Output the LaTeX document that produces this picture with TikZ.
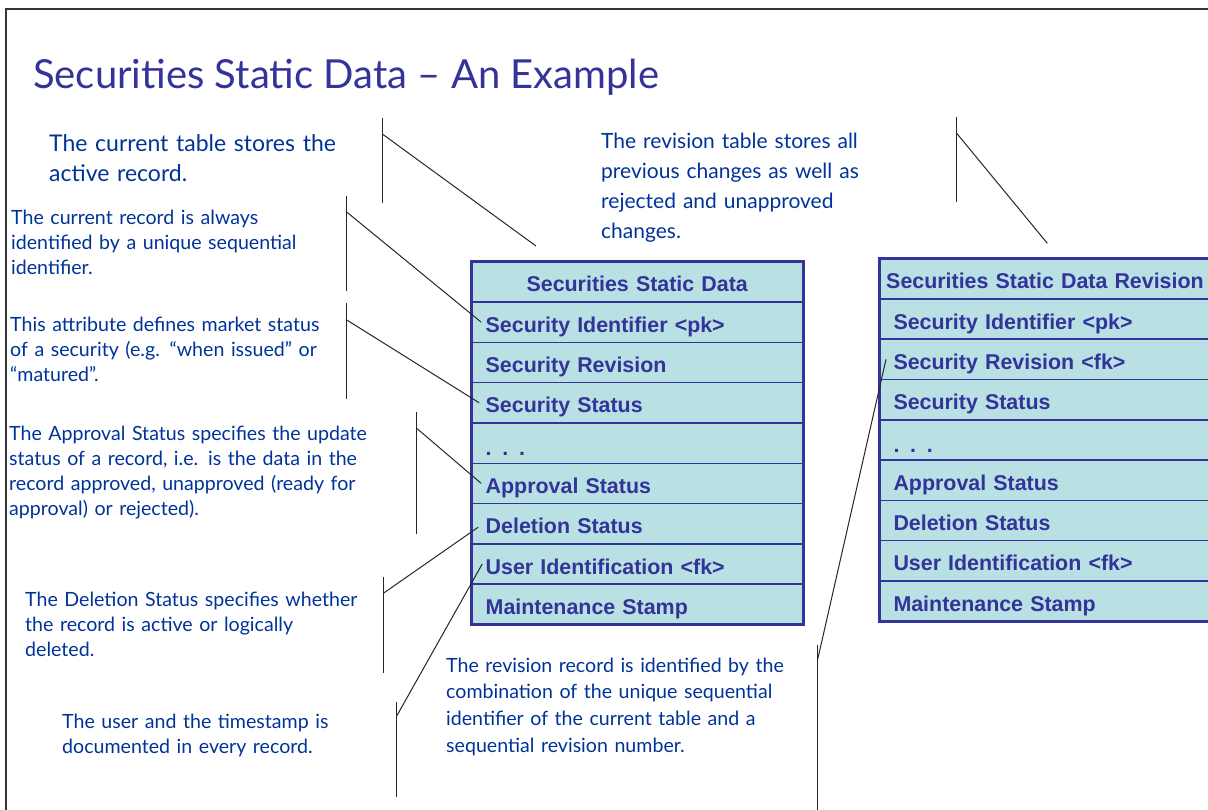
\documentclass[tikz,border=0pt]{standalone}
\usepackage{fontspec}
\setmainfont{Lato}
\newfontfamily\tabfont{Liberation Sans}
\usetikzlibrary{positioning}

\definecolor{titleblue}{RGB}{51,51,153}
\definecolor{noteblue}{RGB}{0,51,153}
\definecolor{tabline}{RGB}{51,51,153}
\definecolor{tabfill}{RGB}{185,224,227}

\tikzset{
  field/.style={draw=tabline,line width=1.5pt,fill=tabfill,outer sep=0pt,
    minimum width=332pt,minimum height=40.3pt,inner ysep=0pt,inner xsep=14.5pt,
    text width=303pt,align=left,text height=20pt,text depth=0pt,text=tabline,
    font=\tabfont\bfseries\fontsize{21.4}{24}\selectfont},
  header/.style={field,align=center,inner xsep=4pt,text width=324pt,text height=19pt},
  note/.style={anchor=base west,inner sep=0pt,align=left,text width=420pt,text=noteblue,
    font=\fontsize{19.6}{25}\selectfont},
  bignote/.style={note,font=\fontsize{23}{30}\selectfont},
  callout/.style={black!85,line width=1pt}
}

\begin{document}
\begin{tikzpicture}[x=1pt,y=-1pt]
\useasboundingbox (0,0) rectangle (1208,809);
\clip (0,0) rectangle (1208,809);
% slide frame
\draw[black!80,line width=2pt] (6,830) |- (1230,9);
\node[anchor=base west,inner sep=0pt,text=titleblue,font=\fontsize{40}{48}\selectfont]
  (title) at (33,88) {Securities Static Data – An Example};

% current table
\node[header] (c0) at (637.2,281.9) {Securities Static Data};
\node[field,below=0pt of c0] (c1) {Security Identifier <pk>};
\node[field,below=0pt of c1] (c2) {Security Revision};
\node[field,below=0pt of c2] (c3) {Security Status};
\node[field,below=0pt of c3,text height=25pt] (c4) {. . .};
\node[field,below=0pt of c4] (c5) {Approval Status};
\node[field,below=0pt of c5] (c6) {Deletion Status};
\node[field,below=0pt of c6] (c7) {User Identification <fk>};
\node[field,below=0pt of c7] (c8) {Maintenance Stamp};
\draw[tabline,line width=3pt] (c0.north west) rectangle (c8.south east);

% revision table
\node[header] (r0) at (1045,278.7) {Securities Static Data Revision};
\node[field,below=0pt of r0] (r1) {Security Identifier <pk>};
\node[field,below=0pt of r1] (r2) {Security Revision <fk>};
\node[field,below=0pt of r2] (r3) {Security Status};
\node[field,below=0pt of r3,text height=25pt] (r4) {. . .};
\node[field,below=0pt of r4] (r5) {Approval Status};
\node[field,below=0pt of r5] (r6) {Deletion Status};
\node[field,below=0pt of r6] (r7) {User Identification <fk>};
\node[field,below=0pt of r7] (r8) {Maintenance Stamp};
\draw[tabline,line width=3pt] (r0.north west) rectangle (r8.south east);

% notes
\node[bignote] (n1) at (49,151) {The current table stores the\\active record.};
\node[bignote,font=\fontsize{21}{30}\selectfont] (n8) at (601,148) {The revision table stores all\\previous changes as well as\\rejected and unapproved\\changes.};
\node[note] (n2) at (11,224) {The current record is always\\identified by a unique sequential\\identifier.};
\node[note] (n3) at (10,331.7) {This attribute defines market status\\of a security (e.g. “when issued” or\\“matured”.};
\node[note] (n4) at (9,440) {The Approval Status specifies the update\\status of a record, i.e. is the data in the\\record approved, unapproved (ready for\\approval) or rejected).};
\node[note] (n5) at (25,606) {The Deletion Status specifies whether\\the record is active or logically\\deleted.};
\node[note] (n6) at (62,728) {The user and the timestamp is\\documented in every record.};
\node[note,font=\fontsize{19.6}{26.7}\selectfont] (n7) at (446,672) {The revision record is identified by the\\combination of the unique sequential\\identifier of the current table and a\\sequential revision number.};

% callout brackets
\coordinate (a1) at (382.3,118); \coordinate (a2) at (382.3,203);
\coordinate (ak) at (382.3,134); \coordinate (ae) at (536,246);
\draw[callout] (a1) -- (a2); \draw[callout] (ak) -- (ae);
\coordinate (b1) at (346.7,196); \coordinate (b2) at (346.7,291); \coordinate (bk) at (346.7,212);
\draw[callout] (b1) -- (b2); \draw[callout] (bk) -- ([xshift=10pt]c1.west);
\coordinate (d1) at (346,303); \coordinate (d2) at (346,399); \coordinate (dk) at (346,319.5);
\draw[callout] (d1) -- (d2); \draw[callout] (dk) -- ([xshift=8pt]c3.west);
\coordinate (e1) at (416.7,412); \coordinate (e2) at (416.7,534); \coordinate (ek) at (416.7,428.3);
\draw[callout] (e1) -- (e2); \draw[callout] (ek) -- ([xshift=10pt]c5.west);
\coordinate (f1) at (383.3,577); \coordinate (f2) at (383.3,673); \coordinate (fk) at (383.3,593.3);
\draw[callout] (f1) -- (f2); \draw[callout] (fk) -- ([xshift=7pt,yshift=-3.5pt]c6.west);
\coordinate (g1) at (396.7,702); \coordinate (g2) at (396.7,797); \coordinate (gk) at (396.7,716);
\draw[callout] (g1) -- (g2); \draw[callout] (gk) -- ([xshift=11pt]c7.west);
\coordinate (h1) at (817.7,645); \coordinate (h2) at (817.7,815); \coordinate (hk) at (817.7,659.3);
\draw[callout] (h1) -- (h2); \draw[callout] (hk) -- ([xshift=7pt]r2.west);
\coordinate (k1) at (956.7,117); \coordinate (k2) at (956.7,202.3);
\coordinate (kk) at (956.7,133.3); \coordinate (ke) at (1047.3,243.3);
\draw[callout] (k1) -- (k2); \draw[callout] (kk) -- (ke);
\end{tikzpicture}
\end{document}
